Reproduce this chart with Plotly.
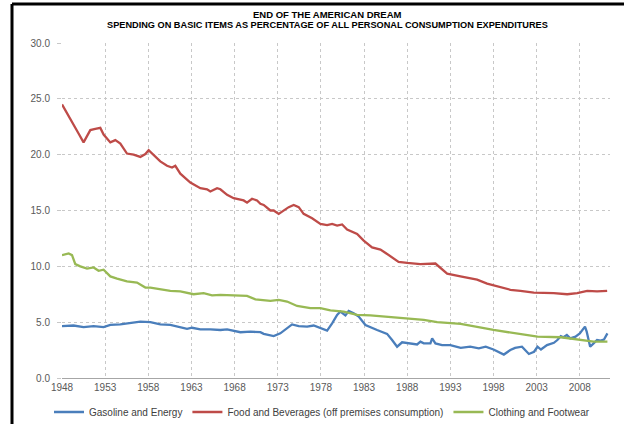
import plotly.graph_objects as go

# ---------------- data ----------------
gas_years = [1948.0, 1949.34, 1950.5, 1951.66, 1952.82, 1953.6, 1954.76, 1955.92, 1957.08, 1958.24,
             1959.39, 1960.55, 1961.71, 1962.49, 1963.07, 1964.03, 1965.19, 1966.35, 1967.13, 1968.67,
             1969.83, 1970.99, 1971.37, 1972.53, 1973.3, 1974.08, 1974.66, 1975.43, 1976.4, 1977.16,
             1977.94, 1978.72, 1979.3, 1979.88, 1980.26, 1980.84, 1981.22, 1981.8, 1982.38, 1983.16,
             1984.51, 1985.67, 1986.25, 1986.83, 1987.41, 1988.37, 1989.15, 1989.53, 1989.92, 1990.69,
             1990.89, 1991.27, 1992.05, 1993.0, 1994.2, 1995.3, 1996.3, 1997.1, 1998.0, 1999.2,
             1999.95, 2000.5, 2001.3, 2002.1, 2002.7, 2003.1, 2003.5, 2004.2, 2005.0, 2005.4,
             2005.8, 2006.1, 2006.5, 2006.9, 2007.5, 2008.0, 2008.6, 2008.8, 2009.2, 2009.6,
             2010.0, 2010.4, 2010.8, 2011.2]
gas_vals = [4.65, 4.7, 4.55, 4.65, 4.55, 4.75, 4.8, 4.9, 5.05, 5.0,
            4.8, 4.75, 4.55, 4.4, 4.5, 4.35, 4.35, 4.3, 4.35, 4.1,
            4.15, 4.1, 3.95, 3.75, 4.0, 4.45, 4.8, 4.65, 4.6, 4.7,
            4.45, 4.25, 4.9, 5.65, 5.95, 5.6, 6.0, 5.8, 5.5, 4.75,
            4.3, 3.95, 3.4, 2.8, 3.2, 3.1, 3.0, 3.25, 3.1, 3.1,
            3.55, 3.1, 2.95, 2.95, 2.7, 2.8, 2.65, 2.8, 2.55, 2.1,
            2.5, 2.7, 2.8, 2.15, 2.35, 2.8, 2.55, 2.95, 3.15, 3.4,
            3.75, 3.65, 3.85, 3.55, 3.7, 4.0, 4.6, 4.15, 2.8, 3.1,
            3.4, 3.35, 3.45, 4.0]

food_years = [1948.0, 1948.77, 1949.92, 1950.5, 1951.28, 1951.86, 1952.44, 1952.82, 1953.6, 1954.18,
              1954.76, 1955.53, 1956.3, 1957.08, 1957.66, 1958.04, 1958.62, 1959.39, 1960.17, 1960.75,
              1961.13, 1961.71, 1962.87, 1964.03, 1964.81, 1965.19, 1965.97, 1966.35, 1967.13, 1967.89,
              1969.05, 1969.44, 1970.02, 1970.6, 1970.99, 1971.37, 1972.15, 1972.53, 1973.11, 1973.69,
              1974.27, 1974.85, 1975.43, 1976.0, 1976.98, 1977.94, 1978.72, 1979.3, 1979.88, 1980.46,
              1981.04, 1982.2, 1982.96, 1983.93, 1984.9, 1985.5, 1986.3, 1987.0, 1988.0, 1989.0,
              1989.53, 1991.27, 1991.85, 1992.63, 1994.17, 1996.1, 1997.26, 1998.42, 1999.96, 2001.12,
              2002.67, 2004.98, 2006.54, 2007.7, 2008.86, 2010.0, 2011.17]
food_vals = [24.5, 23.4, 21.9, 21.1, 22.2, 22.3, 22.4, 21.8, 21.1, 21.3,
             21.0, 20.1, 20.0, 19.8, 20.05, 20.4, 20.0, 19.4, 19.0, 18.85,
             19.0, 18.3, 17.5, 17.0, 16.9, 16.7, 17.0, 16.9, 16.4, 16.1,
             15.9, 15.7, 16.05, 15.9, 15.6, 15.5, 15.0, 15.0, 14.7, 15.0,
             15.3, 15.5, 15.3, 14.7, 14.3, 13.8, 13.7, 13.8, 13.65, 13.75,
             13.3, 12.9, 12.3, 11.7, 11.5, 11.2, 10.8, 10.4, 10.3, 10.2,
             10.2, 10.25, 9.9, 9.35, 9.1, 8.8, 8.45, 8.2, 7.9, 7.8,
             7.65, 7.6, 7.5, 7.6, 7.8, 7.75, 7.8]

cloth_years = [1948.0, 1948.77, 1949.16, 1949.54, 1950.12, 1950.9, 1951.66, 1952.24, 1952.82, 1953.6,
               1954.38, 1955.53, 1956.69, 1957.66, 1958.24, 1959.01, 1960.55, 1961.71, 1963.25, 1964.41,
               1965.39, 1966.35, 1967.89, 1969.44, 1970.41, 1970.99, 1972.15, 1973.11, 1974.08, 1975.24,
               1976.78, 1977.94, 1979.1, 1980.64, 1982.2, 1983.74, 1985.28, 1986.83, 1988.37, 1989.92,
               1991.47, 1993.0, 1994.2, 1998.0, 2001.9, 2003.1, 2005.8, 2008.0, 2009.6, 2011.2]
cloth_vals = [11.0, 11.15, 11.0, 10.2, 10.0, 9.8, 9.9, 9.6, 9.7, 9.1,
              8.9, 8.65, 8.55, 8.1, 8.1, 8.0, 7.8, 7.75, 7.5, 7.6,
              7.4, 7.45, 7.4, 7.35, 7.05, 7.0, 6.9, 7.0, 6.85, 6.45,
              6.25, 6.25, 6.05, 5.95, 5.65, 5.6, 5.5, 5.4, 5.35, 5.2,
              5.0, 4.95, 4.85, 4.3, 3.85, 3.7, 3.65, 3.45, 3.25, 3.25]

x_ticks = [1948, 1953, 1958, 1963, 1968, 1973, 1978, 1983, 1988, 1993, 1998, 2003, 2008]
y_ticks = [0, 5, 10, 15, 20, 25, 30]

series_names = ["Gasoline and Energy", "Food and Beverages (off premises consumption)", "Clothing and Footwear"]
colors = ["#4A7EBB", "#BE4B48", "#98B954"]

# ---------------- figure ----------------
fig = go.Figure()
for xs, ys, name, c in [(gas_years, gas_vals, series_names[0], colors[0]),
                        (food_years, food_vals, series_names[1], colors[1]),
                        (cloth_years, cloth_vals, series_names[2], colors[2])]:
    fig.add_trace(go.Scatter(x=xs, y=ys, mode="lines", name=name,
                             line=dict(color=c, width=2.3)))

W, H = 624, 424
ml, mr, mt, mb = 62, 14, 43, 46
pw, ph = W - ml - mr, H - mt - mb

fig.update_layout(
    width=W, height=H,
    margin=dict(l=ml, r=mr, t=mt, b=mb, autoexpand=False),
    paper_bgcolor="white", plot_bgcolor="white",
    font=dict(family="Liberation Sans, Arial, sans-serif", size=10, color="#595959"),
    showlegend=True,
    legend=dict(orientation="h", x=322 / W, xanchor="center", xref="container",
                y=(H - 412) / H, yanchor="middle", yref="container",
                font=dict(size=10, color="#404040"), tracegroupgap=0,
                bgcolor="rgba(0,0,0,0)"),
    xaxis=dict(range=[1948, 2011.5], tickmode="array", tickvals=x_ticks,
               ticktext=[str(v) for v in x_ticks],
               showgrid=True, gridcolor="#C8C8C8", griddash="dot", gridwidth=1,
               showline=True, linecolor="#A6A6A6", linewidth=1,
               ticks="", zeroline=False, tickfont=dict(size=10, color="#595959")),
    yaxis=dict(range=[0, 30], tickmode="array", tickvals=y_ticks,
               ticktext=[f"{v:.1f}" for v in y_ticks],
               showgrid=True, gridcolor="#C8C8C8", griddash="dot", gridwidth=1,
               showline=False, zeroline=False, ticks="outside", ticklen=4,
               tickcolor="#C8C8C8", ticklabelstandoff=5,
               tickfont=dict(size=10, color="#595959")),
)

# Titles
fig.add_annotation(text="<b>END OF THE AMERICAN DREAM</b>", xref="paper", yref="paper",
                   x=(327 - ml) / pw, y=(H - mb - 14) / ph, xanchor="center", yanchor="middle",
                   showarrow=False, font=dict(size=9.5, color="#000000"))
fig.add_annotation(text="<b>SPENDING ON BASIC ITEMS AS PERCENTAGE OF ALL PERSONAL CONSUMPTION EXPENDITURES</b>",
                   xref="paper", yref="paper",
                   x=(327 - ml) / pw, y=(H - mb - 25) / ph, xanchor="center", yanchor="middle",
                   showarrow=False, font=dict(size=9.2, color="#000000"))

# Frame lines (left and top black borders)
fig.add_shape(type="line", xref="paper", yref="paper",
              x0=(12 - ml) / pw, x1=(12 - ml) / pw, y0=(H - mb - 430) / ph, y1=(H - mb - 4) / ph,
              line=dict(color="black", width=3))
fig.add_shape(type="line", xref="paper", yref="paper",
              x0=(12 - ml) / pw, x1=(630 - ml) / pw, y0=(H - mb - 4) / ph, y1=(H - mb - 4) / ph,
              line=dict(color="black", width=3))

fig.write_html("out.html")
